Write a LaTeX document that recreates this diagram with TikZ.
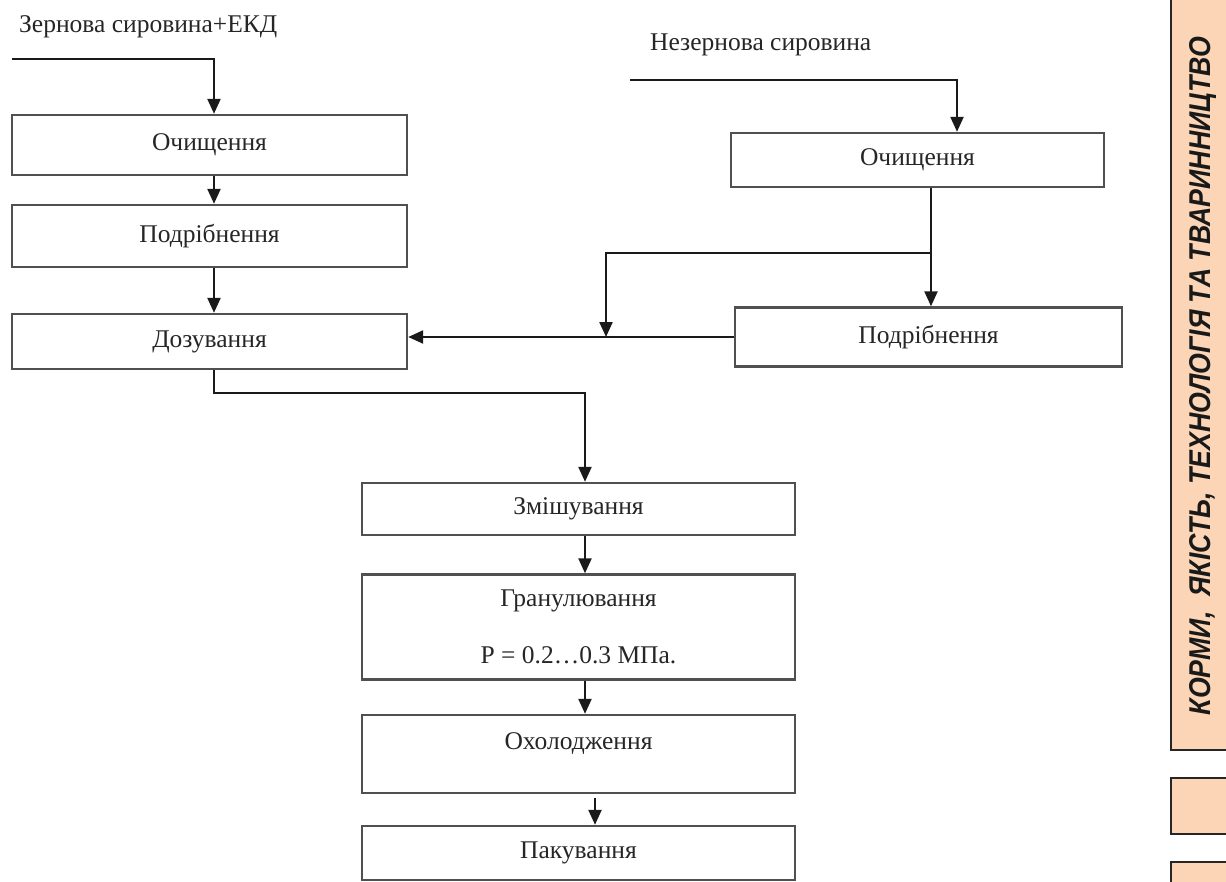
\documentclass[tikz,border=0pt]{standalone}
\usepackage{fontspec}
\setmainfont{Liberation Serif}
\newfontfamily\sidefont{Liberation Sans}
\usetikzlibrary{arrows.meta,calc}
\definecolor{peach}{HTML}{FBD5B5}
\definecolor{linec}{HTML}{1A1A1A}
\definecolor{boxc}{HTML}{505050}
\definecolor{txtc}{HTML}{262626}
\tikzset{
  procbox/.style={draw=boxc, line width=2.4pt, inner sep=0pt, text=txtc,
    font=\fontsize{25.5}{30}\selectfont, align=center},
  flow/.style={draw=linec, line width=2.3pt},
  arr/.style={flow, -{Triangle[width=13pt,length=15pt]}},
  lbl/.style={text=txtc, font=\fontsize{25.5}{30}\selectfont, inner sep=0pt},
  sidebox/.style={fill=peach, draw=black!85, line width=2pt}
}
\begin{document}
\begin{tikzpicture}[x=1pt,y=-1pt]
\useasboundingbox (0,0) rectangle (1226,881);
% left column
\node[procbox, minimum width=395pt, minimum height=60pt] (L1) at (209.5,145) {Очищення};
\node[procbox, minimum width=395pt, minimum height=62pt] (L2) at (209.5,236) {Подрібнення};
\node[procbox, minimum width=395pt, minimum height=55pt] (L3) at (209.5,341.5) {Дозування};
% right column
\node[procbox, minimum width=373pt, minimum height=54pt] (R1) at (917.5,160) {Очищення};
\node[procbox, minimum width=387pt, minimum height=59pt] (R2) at (928.5,337) {Подрібнення};
% centre column
\node[procbox, minimum width=433pt, minimum height=52pt] (C1) at (578.5,509) {Змішування};
\node[procbox, minimum width=433pt, minimum height=105pt] (C2) at (578.5,627) {Гранулювання\\[27pt]P = 0.2…0.3 МПа.};
\node[procbox, minimum width=433pt, minimum height=78pt, text height=17pt, text depth=27pt] (C3) at (578.5,754) {Охолодження};
\node[procbox, minimum width=433pt, minimum height=54pt] (C4) at (578.5,853) {Пакування};
% labels
\node[lbl, anchor=west] (tL) at (19,27) {Зернова сировина+ЕКД};
\node[lbl, anchor=west] (tR) at (650,45) {Незернова сировина};
% left flow
\coordinate (inL) at (12,59);
\coordinate (inLc) at (214,59);
\draw[arr] (inL) -- (inLc) -- (inLc |- L1.north);
\draw[arr] (L1.south -| inLc) -- (L2.north -| inLc);
\draw[arr] (L2.south -| inLc) -- (L3.north -| inLc);
\coordinate (jC) at (585,393);
\draw[arr] (L3.south -| inLc) |- (jC) -- (jC |- C1.north);
\draw[arr] (C1.south -| jC) -- (C2.north -| jC);
\draw[arr] (C2.south -| jC) -- (C3.north -| jC);
\coordinate (jD) at (595,798);
\draw[arr] (jD) -- (jD |- C4.north);
% right flow
\coordinate (inR) at (630,80);
\coordinate (inRc) at (957,80);
\draw[arr] (inR) -- (inRc) -- (inRc |- R1.north);
\coordinate (jR) at (931,253);
\draw[arr] (R1.south -| jR) -- (R2.north -| jR);
\coordinate (jB) at (606,253);
\draw[arr] (jR) -- (jB) -- (jB |- R2.west);
\draw[arr] (R2.west) -- (R2.west -| L3.east);
% side bar
\fill[sidebox] (1171,-10) rectangle (1240,750);
\fill[sidebox] (1171,778) rectangle (1240,834);
\fill[sidebox] (1171,862) rectangle (1240,900);
\node[rotate=90, anchor=base, inner sep=0pt, text=black!90] (side) at (1210,376)
  {\resizebox{678pt}{21pt}{\sidefont\bfseries\itshape КОРМИ,\ \ ЯКІСТЬ, ТЕХНОЛОГІЯ ТА ТВАРИННИЦТВО}};
\end{tikzpicture}
\end{document}
